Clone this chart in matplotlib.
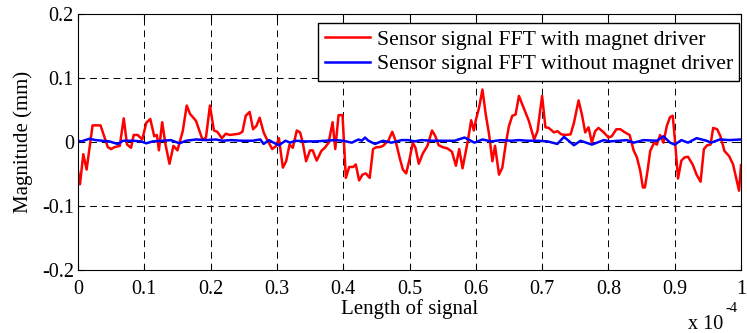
"""
FFT magnitude of the sensor signal, with and without the magnet driver.
MATLAB-style figure: dashed grid, inward ticks, x axis in units of 1e-4.
Output: out.png
"""
import matplotlib
matplotlib.use("Agg")
import matplotlib.pyplot as plt

# x in units of 1e-4 (shown by the "x 10^-4" note under the axis)
X_WITH = [0.000, 0.003, 0.008, 0.013, 0.022, 0.034, 0.045, 0.050, 0.055, 0.063,
          0.069, 0.074, 0.080, 0.084, 0.090, 0.097, 0.103, 0.109, 0.115, 0.119,
          0.122, 0.127, 0.132, 0.138, 0.144, 0.150, 0.158, 0.164, 0.169, 0.178,
          0.188, 0.193, 0.199, 0.205, 0.210, 0.217, 0.223, 0.229,
          0.243, 0.248, 0.253, 0.259, 0.264, 0.269, 0.274, 0.280, 0.285, 0.293,
          0.299, 0.303, 0.309, 0.314, 0.319, 0.324, 0.330, 0.335, 0.339, 0.344,
          0.350, 0.354, 0.360, 0.367, 0.373, 0.378, 0.384, 0.388, 0.393, 0.399,
          0.404, 0.409, 0.415, 0.419, 0.424, 0.429, 0.434, 0.440, 0.445, 0.450,
          0.455, 0.460,
          0.468, 0.474, 0.479, 0.485, 0.490, 0.495, 0.500, 0.505, 0.509, 0.514,
          0.520, 0.527, 0.534, 0.539, 0.544, 0.550, 0.557, 0.564, 0.570, 0.575,
          0.580, 0.588, 0.593, 0.597, 0.600, 0.605, 0.610, 0.615, 0.620, 0.625,
          0.629, 0.635, 0.640, 0.645, 0.650, 0.655, 0.660, 0.665, 0.673, 0.680,
          0.688, 0.693, 0.700, 0.705, 0.710, 0.718,
          0.723, 0.729, 0.735, 0.743, 0.748, 0.755, 0.760, 0.765, 0.770, 0.775,
          0.780, 0.785, 0.793, 0.800, 0.805, 0.812, 0.818, 0.825, 0.832, 0.838,
          0.843, 0.848, 0.852, 0.855, 0.859, 0.863, 0.869, 0.873, 0.878, 0.883,
          0.888, 0.893, 0.897, 0.900, 0.905, 0.910, 0.915, 0.920, 0.927, 0.933,
          0.939, 0.944, 0.949, 0.954, 0.958, 0.964, 0.969, 0.975, 0.982, 0.988,
          0.993, 0.997, 1.000]
Y_WITH = [-0.045, -0.066, -0.019, -0.043, 0.026, 0.026, -0.008, -0.011, -0.008, -0.006,
          0.037, -0.004, -0.009, 0.011, 0.011, 0.004, 0.030, 0.036, 0.009, 0.011,
          -0.013, 0.031, -0.004, -0.034, -0.006, -0.013, 0.017, 0.057, 0.044, 0.033,
          0.003, 0.007, 0.057, 0.018, 0.016, 0.006, 0.013, 0.011,
          0.013, 0.016, 0.041, 0.047, 0.020, 0.025, 0.038, 0.015, 0.004, -0.011,
          -0.006, 0.006, -0.040, -0.030, -0.004, -0.009, 0.018, 0.015, -0.001, -0.030,
          -0.013, -0.013, -0.029, -0.014, -0.008, -0.001, 0.031, -0.011, 0.042, 0.042,
          -0.056, -0.039, -0.039, -0.035, -0.060, -0.051, -0.049, -0.056, -0.011, -0.008,
          -0.008, -0.006,
          0.002, 0.016, 0.002, -0.024, -0.043, -0.049, -0.027, -0.001, -0.009, -0.034,
          -0.018, -0.006, 0.018, 0.009, -0.005, -0.008, -0.010, -0.015, -0.037, -0.011,
          -0.041, 0.002, 0.034, 0.018, 0.034, 0.054, 0.082, 0.043, 0.012, -0.030,
          -0.006, -0.051, -0.040, -0.004, 0.025, 0.041, 0.043, 0.072, 0.051, 0.033,
          0.004, 0.017, 0.072, 0.023, 0.022, 0.015,
          0.017, 0.012, 0.011, 0.012, 0.030, 0.065, 0.043, 0.015, 0.023, -0.001,
          0.017, 0.022, 0.015, 0.007, 0.009, 0.020, 0.020, 0.015, 0.011, -0.013,
          -0.024, -0.045, -0.071, -0.071, -0.045, -0.014, -0.001, -0.004, 0.011, -0.001,
          0.025, 0.039, 0.041, 0.007, -0.057, -0.029, -0.024, -0.023, -0.035, -0.051,
          -0.062, -0.011, -0.005, -0.004, 0.022, 0.020, 0.009, -0.014, -0.022, -0.035,
          -0.058, -0.076, -0.036]

X_WITHOUT = [0.0, 0.005, 0.017, 0.027, 0.037, 0.047, 0.060, 0.068, 0.083, 0.095,
             0.103, 0.113, 0.128, 0.140, 0.153, 0.163, 0.178, 0.193, 0.208, 0.218, 0.230,
             0.248, 0.263, 0.275, 0.280, 0.288, 0.295, 0.303, 0.313, 0.320, 0.328,
             0.343, 0.358, 0.373, 0.388, 0.400, 0.413, 0.423, 0.428, 0.433, 0.438,
             0.448, 0.460, 0.473,
             0.488, 0.498, 0.508, 0.518, 0.533, 0.548, 0.568, 0.583, 0.598, 0.610,
             0.623, 0.638, 0.653, 0.665, 0.678, 0.693, 0.708, 0.723,
             0.733, 0.748, 0.758, 0.775, 0.793, 0.803, 0.828, 0.838, 0.853, 0.873,
             0.883, 0.893, 0.900, 0.910, 0.920, 0.933, 0.948, 0.955, 0.968, 0.983, 1.0]
Y_WITHOUT = [0.002, 0.001, 0.005, 0.003, 0.002, 0.001, -0.003, 0.002, 0.002, 0.001,
             -0.002, 0.001, 0.002, 0.003, -0.002, 0.002, 0.004, 0.003, 0.004, 0.002, 0.003,
             0.002, 0.002, 0.004, -0.003, 0.003, -0.001, -0.005, 0.002, -0.001, 0.002,
             0.001, 0.001, 0.002, 0.003, 0.002, -0.001, 0.004, 0.002, 0.007, 0.002,
             -0.003, 0.002, -0.001,
             0.003, 0.003, 0.001, 0.003, 0.002, 0.002, 0.002, 0.007, -0.001, 0.004,
             0.001, 0.003, 0.002, 0.003, 0.002, 0.002, 0.001, -0.003,
             0.008, -0.005, 0.002, -0.004, 0.003, 0.001, 0.003, -0.001, 0.003, 0.002,
             0.009, -0.001, -0.004, 0.003, -0.001, 0.006, 0.002, -0.001, 0.004, 0.003, 0.004]

X_TICKS = [0, 0.1, 0.2, 0.3, 0.4, 0.5, 0.6, 0.7, 0.8, 0.9, 1]
X_TICK_LABELS = ["0", "0.1", "0.2", "0.3", "0.4", "0.5", "0.6", "0.7", "0.8", "0.9", "1"]
Y_TICKS = [-0.2, -0.1, 0, 0.1, 0.2]
Y_TICK_LABELS = ["-0.2", "-0.1", "0", "0.1", "0.2"]

plt.rcParams["font.family"] = ["Liberation Serif", "DejaVu Serif"]
FS = 14.5

fig = plt.figure(figsize=(7.47, 3.33), dpi=100)
# right edge a touch inside the figure so the "1" tick label is not clipped
ax = fig.add_axes([0.1044, 0.189, 0.8876, 0.769])

ax.plot(X_WITH, Y_WITH, color="#ff0000", lw=1.8, label="Sensor signal FFT with magnet driver")
ax.plot(X_WITHOUT, Y_WITHOUT, color="#0000ff", lw=1.8, label="Sensor signal FFT without magnet driver")

ax.set_xlim(0, 1); ax.set_ylim(-0.2, 0.2)
ax.set_xticks(X_TICKS, X_TICK_LABELS)
ax.set_yticks(Y_TICKS, Y_TICK_LABELS)
ax.tick_params(direction="in", length=4, width=0.8, top=True, right=True, labelsize=FS)
ax.tick_params(axis="x", pad=7)
ax.tick_params(axis="y", pad=3)
ax.grid(True, color="black", ls=(0, (7, 5)), lw=0.7)
for s in ax.spines.values():
    s.set_linewidth(0.8)

ax.set_xlabel("Length of signal", fontsize=FS + 0.5, va="top")
ax.xaxis.set_label_coords(0.5, -0.113)
ax.set_ylabel("Magnitude (mm)", fontsize=FS + 0.5)
ax.yaxis.set_label_coords(-0.068, 0.5)

# MATLAB-style exponent note under the right end of the x axis
fig.text(688 / 747, 4 / 333, "x 10", fontsize=FS, va="baseline", ha="left")
fig.text(726 / 747, 21 / 333, "-4", fontsize=10.5, va="baseline", ha="left")

leg = ax.legend(loc="upper right", bbox_to_anchor=(0.9975, 0.965), borderaxespad=0,
                fontsize=15.6, fancybox=False, framealpha=1, edgecolor="black",
                handlelength=2.1, handletextpad=0.3, labelspacing=0.2, borderpad=0.3)
leg.get_frame().set_linewidth(1.0)

fig.savefig("out.png", dpi=100)
